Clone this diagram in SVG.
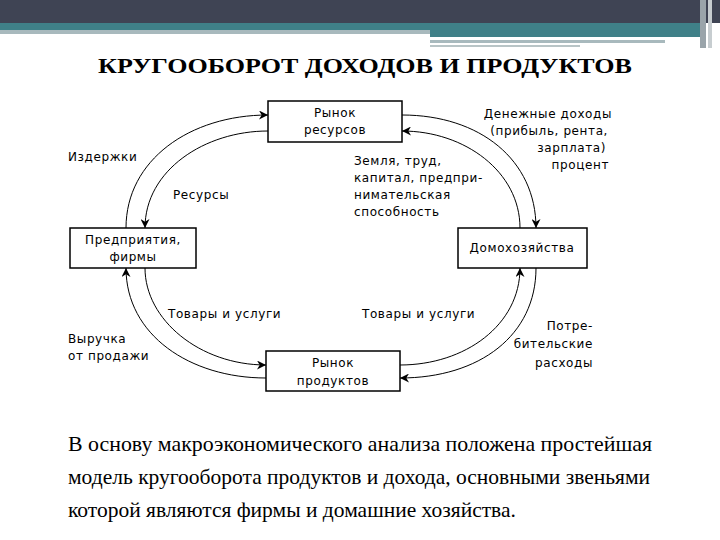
<svg xmlns="http://www.w3.org/2000/svg" width="720" height="540" viewBox="0 0 720 540">
<defs>
<marker id="ah" viewBox="0 0 10 10" refX="10" refY="5" markerWidth="9" markerHeight="9" orient="auto" markerUnits="userSpaceOnUse"><path d="M0,0 L10,5 L0,10 L3,5 Z" fill="#000"/></marker>
<style>
.box{fill:#fff;stroke:#000;stroke-width:1.5}
.t{font-family:"DejaVu Sans",sans-serif;font-size:12px;fill:#000;letter-spacing:0.6px}
.c{fill:none;stroke:#000;stroke-width:1}
.b{font-family:"Liberation Serif",serif;font-size:21.5px;fill:#000}
</style>
</defs>
<rect width="720" height="540" fill="#fff"/>
<rect x="0" y="0" width="720" height="23" fill="#3f4454"/>
<rect x="0" y="23" width="700" height="10" fill="#3f8088"/>
<rect x="0" y="30" width="430" height="4" fill="#a8b9bd"/>
<rect x="430" y="33" width="270" height="4" fill="#3f8088"/>
<rect x="430" y="40" width="235" height="3" fill="#a8b9bd"/>
<rect x="430" y="45" width="150" height="2" fill="#b8c4c6"/>
<rect x="700" y="0" width="6" height="48" fill="#9aa4aa"/>
<rect x="708" y="0" width="4" height="48" fill="#c7cdd0"/>
<text x="98" y="73" textLength="534" lengthAdjust="spacingAndGlyphs" font-family="Liberation Serif,serif" font-weight="bold" font-size="20">КРУГООБОРОТ ДОХОДОВ И ПРОДУКТОВ</text>
<g id="connectors">
<path class="c" d="M126,228 C126,160 190,115 268,115" marker-end="url(#ah)"/>
<path class="c" d="M268,131 C205,131 145,170 145,228" marker-end="url(#ah)"/>
<path class="c" d="M402,115 C480,115 536,160 536,228" marker-end="url(#ah)"/>
<path class="c" d="M520,228 C520,172 465,131 402,131" marker-end="url(#ah)"/>
<path class="c" d="M145,268 C145,320 200,365 266,365" marker-end="url(#ah)"/>
<path class="c" d="M266,378 C190,378 126,335 126,268" marker-end="url(#ah)"/>
<path class="c" d="M400,365 C465,365 520,325 520,268" marker-end="url(#ah)"/>
<path class="c" d="M536,268 C536,335 480,378 400,378" marker-end="url(#ah)"/>
</g>
<g id="resources"><rect class="box" x="268" y="101" width="134" height="41"/><text class="t" x="335" y="117" text-anchor="middle">Рынок</text><text class="t" x="335" y="134" text-anchor="middle">ресурсов</text></g>
<g id="firms"><rect class="box" x="70" y="228" width="126" height="40"/><text class="t" x="133" y="244" text-anchor="middle">Предприятия,</text><text class="t" x="133" y="261" text-anchor="middle">фирмы</text></g>
<g id="households"><rect class="box" x="458" y="228" width="129" height="40"/><text class="t" x="522" y="252" text-anchor="middle">Домохозяйства</text></g>
<g id="products"><rect class="box" x="266" y="351" width="134" height="40"/><text class="t" x="333" y="367" text-anchor="middle">Рынок</text><text class="t" x="333" y="385" text-anchor="middle">продуктов</text></g>
<g id="labels">
<text class="t" x="68" y="161">Издержки</text>
<text class="t" x="173" y="199">Ресурсы</text>
<text class="t" x="612" y="118" text-anchor="end">Денежные доходы</text>
<text class="t" x="608" y="135" text-anchor="end">(прибыль, рента,</text>
<text class="t" x="606" y="152" text-anchor="end">зарплата)</text>
<text class="t" x="609" y="169" text-anchor="end">процент</text>
<text class="t" x="354" y="165">Земля, труд,</text>
<text class="t" x="354" y="182">капитал, предпри-</text>
<text class="t" x="354" y="199">нимательская</text>
<text class="t" x="354" y="216">способность</text>
<text class="t" x="168" y="318">Товары и услуги</text>
<text class="t" x="362" y="318">Товары и услуги</text>
<text class="t" x="68" y="343">Выручка</text>
<text class="t" x="68" y="360">от продажи</text>
<text class="t" x="593" y="330" text-anchor="end">Потре-</text>
<text class="t" x="593" y="348" text-anchor="end">бительские</text>
<text class="t" x="593" y="367" text-anchor="end">расходы</text>
</g>
<text class="b" x="68" y="451" textLength="584" lengthAdjust="spacingAndGlyphs">В основу макроэкономического анализа положена простейшая</text>
<text class="b" x="68" y="484">модель кругооборота продуктов и дохода, основными звеньями</text>
<text class="b" x="68" y="517">которой являются фирмы и домашние хозяйства.</text>
</svg>
